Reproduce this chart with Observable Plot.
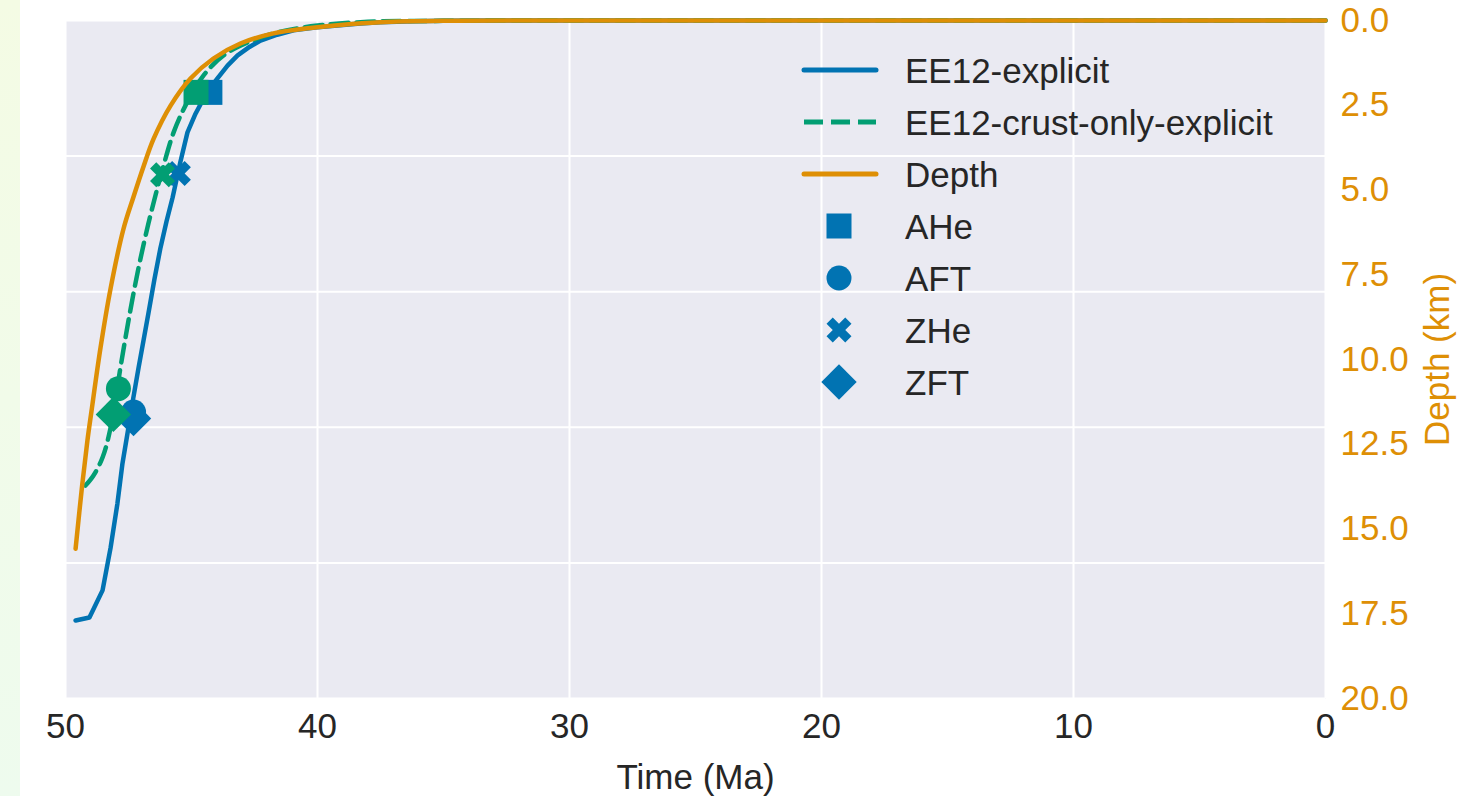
<!DOCTYPE html>
<html>
<head>
<meta charset="utf-8">
<script src="https://cdn.jsdelivr.net/npm/d3@7"></script>
<script src="https://cdn.jsdelivr.net/npm/@observablehq/plot@0.6"></script>
<style>
  html, body { margin: 0; padding: 0; background: #fff; }
  #wrap { position: relative; width: 1465px; height: 796px; overflow: hidden;
          font-family: "Liberation Sans", Arial, sans-serif; }
  #strip { position: absolute; left: 0; top: 0; width: 20px; height: 796px;
           background: linear-gradient(#f4fbe4, #eefbee); }
  #chart { position: absolute; left: 0; top: 0; }
  #legend { position: absolute; left: 0; top: 0; pointer-events: none; }
</style>
</head>
<body>
<div id="wrap">
  <div id="strip"></div>
  <div id="chart"></div>
  <svg id="legend" width="1465" height="796"></svg>
</div>
<script>
// ---- Series (time in Ma, vertical value in km) ----
const ee12Time  = [49.6, 49.05, 48.53, 48.21, 47.94, 47.74, 47.54, 47.32, 47.10, 46.90, 46.71, 46.47, 46.23, 45.99, 45.75, 45.45, 45.16, 44.84, 44.52, 44.25, 43.97, 43.57, 43.17, 42.7, 42.26, 41.6, 40.95, 40.1, 39.21, 38.3, 37.5, 36.2, 35, 33, 30, 20, 10, 0];
const ee12Value = [17.70, 17.61, 16.81, 15.55, 14.25, 13.07, 12.18, 11.18, 10.24, 9.42, 8.64, 7.63, 6.70, 5.92, 5.22, 4.20, 3.30, 2.75, 2.30, 1.98, 1.71, 1.33, 1.03, 0.78, 0.59, 0.42, 0.29, 0.21, 0.15, 0.09, 0.05, 0.02, 0.01, 0.003, 0, 0, 0, 0];

const crustTime  = [49.21, 48.89, 48.53, 48.21, 47.82, 47.50, 47.10, 46.71, 46.35, 46.11, 45.71, 45.24, 44.52, 43.73, 42.78, 41.59, 40, 38, 35, 30, 0];
const crustValue = [13.72, 13.42, 12.89, 12.01, 10.24, 8.85, 7.29, 5.99, 4.93, 4.28, 3.30, 2.51, 1.62, 1.03, 0.65, 0.35, 0.15, 0.04, 0.01, 0, 0];

const depthTime  = [49.6, 49.34, 49.13, 48.97, 48.61, 48.21, 47.70, 47.30, 46.90, 46.51, 45.83, 45.04, 44.13, 43.06, 41.75, 40.28, 39.09, 37.5, 35, 30, 0];
const depthValue = [15.58, 13.72, 12.39, 11.53, 9.65, 7.90, 6.15, 5.20, 4.30, 3.50, 2.51, 1.71, 1.12, 0.68, 0.38, 0.22, 0.13, 0.05, 0.01, 0, 0];

// ---- Thermochronometer ages ----
const markerNames      = ["AHe", "AFT", "ZHe", "ZFT"];
const ee12MarkerAge    = [44.27, 47.30, 45.52, 47.30];
const ee12MarkerValue  = [2.12, 11.55, 4.51, 11.74];
const crustMarkerAge   = [44.82, 47.90, 46.15, 48.10];
const crustMarkerValue = [2.12, 10.86, 4.55, 11.62];

// ---- Axes ----
const timeTicks  = [50, 40, 30, 20, 10, 0];
const depthTicks = [0, 2.5, 5, 7.5, 10, 12.5, 15, 17.5, 20];
const gridLevels = [0, 4, 8, 12, 16, 20];

const BLUE = "#0173b2", GREEN = "#029e73", ORANGE = "#de8f05", INK = "#262626";
const LW = 4.5;

const zip = (t, v) => t.map((x, i) => ({t: x, v: v[i]}));
const ee12 = zip(ee12Time, ee12Value);
const crust = zip(crustTime, crustValue);
const depth = zip(depthTime, depthValue);

// Filled marker shapes, sized so that sqrt(size) is the marker's side length
const SQ2 = Math.SQRT2;
const shapes = {
  square: { draw(c, size) { const s = Math.sqrt(size); c.rect(-s / 2, -s / 2, s, s); } },
  circle: { draw(c, size) { const s = Math.sqrt(size) / 2; c.moveTo(s, 0); c.arc(0, 0, s, 0, 2 * Math.PI); c.closePath(); } },
  xcross: { draw(c, size) {
    const L = Math.sqrt(size) * 1.06, a = L / 2, w = L / 6;
    const pts = [[w,-a],[w,-w],[a,-w],[a,w],[w,w],[w,a],[-w,a],[-w,w],[-a,w],[-a,-w],[-w,-w],[-w,-a]]
      .map(([x, y]) => [(x - y) / SQ2, (x + y) / SQ2]);
    c.moveTo(pts[0][0], pts[0][1]);
    for (const p of pts.slice(1)) c.lineTo(p[0], p[1]);
    c.closePath();
  } },
  diamond: { draw(c, size) { const h = Math.sqrt(size) / SQ2; c.moveTo(0, -h); c.lineTo(h, 0); c.lineTo(0, h); c.lineTo(-h, 0); c.closePath(); } }
};
const markerShapes = [shapes.square, shapes.circle, shapes.xcross, shapes.diamond];
const MARK_R = 25 / Math.sqrt(Math.PI);

function markerDots(ages, values, color) {
  return markerNames.map((name, i) =>
    Plot.dot([{t: ages[i], v: values[i], name}], {
      x: "t", y: "v", r: MARK_R, symbol: markerShapes[i], fill: color, stroke: null
    }));
}

const chart = Plot.plot({
  width: 1465,
  height: 796,
  marginLeft: 65,
  marginRight: 140,
  marginTop: 20,
  marginBottom: 98,
  style: { fontFamily: "'Liberation Sans', Arial, sans-serif", fontSize: "35px", color: INK, background: "transparent", overflow: "visible" },
  x: { domain: [50, 0] },
  y: { domain: [0, 20], reverse: true },
  marks: [
    Plot.frame({ fill: "#eaeaf2", stroke: null }),
    Plot.gridX(timeTicks, { stroke: "white", strokeOpacity: 1, strokeWidth: 2 }),
    Plot.gridY(gridLevels, { stroke: "white", strokeOpacity: 1, strokeWidth: 2 }),
    Plot.axisX(timeTicks, {
      tickSize: 0, tickPadding: 15, fontSize: 35, fill: INK,
      label: "Time (Ma)", labelAnchor: "center", labelArrow: "none", labelOffset: 90
    }),
    Plot.axisY(depthTicks, {
      anchor: "right", tickSize: 0, tickPadding: 15, fontSize: 35, color: ORANGE,
      tickFormat: d => d.toFixed(1),
      label: "Depth (km)", labelAnchor: "center", labelArrow: "none", labelOffset: 123
    }),
    Plot.line(ee12, { x: "t", y: "v", stroke: BLUE, strokeWidth: LW, strokeLinecap: "round", strokeLinejoin: "round" }),
    ...markerDots(ee12MarkerAge, ee12MarkerValue, BLUE),
    Plot.line(crust, { x: "t", y: "v", curve: "catmull-rom", stroke: GREEN, strokeWidth: LW, strokeDasharray: "18,8", strokeLinejoin: "round" }),
    ...markerDots(crustMarkerAge, crustMarkerValue, GREEN),
    Plot.line(depth, { x: "t", y: "v", curve: "catmull-rom", stroke: ORANGE, strokeWidth: LW, strokeLinecap: "round", strokeLinejoin: "round" })
  ]
});
document.getElementById("chart").append(chart);

// ---- Legend ----
const lineEntries = [
  { name: "EE12-explicit", color: BLUE, dash: null },
  { name: "EE12-crust-only-explicit", color: GREEN, dash: "19,8" },
  { name: "Depth", color: ORANGE, dash: null }
];
const legend = d3.select("#legend");
const rowY = i => 70 + 52 * i;
const g = legend.append("g");
lineEntries.forEach((e, i) => {
  g.append("line").attr("x1", 804).attr("x2", 876).attr("y1", rowY(i)).attr("y2", rowY(i))
    .attr("stroke", e.color).attr("stroke-width", 5)
    .attr("stroke-linecap", e.dash ? "butt" : "round")
    .attr("stroke-dasharray", e.dash);
  g.append("text").attr("x", 905).attr("y", rowY(i)).attr("dy", "0.36em")
    .attr("fill", INK).attr("font-size", 35).attr("font-family", "'Liberation Sans', Arial, sans-serif")
    .text(e.name);
});
markerNames.forEach((name, j) => {
  const i = j + lineEntries.length;
  const p = d3.path();
  markerShapes[j].draw(p, 625);
  g.append("path").attr("d", p.toString()).attr("transform", `translate(839,${rowY(i)})`).attr("fill", BLUE);
  g.append("text").attr("x", 905).attr("y", rowY(i)).attr("dy", "0.36em")
    .attr("fill", INK).attr("font-size", 35).attr("font-family", "'Liberation Sans', Arial, sans-serif")
    .text(name);
});
</script>
</body>
</html>
